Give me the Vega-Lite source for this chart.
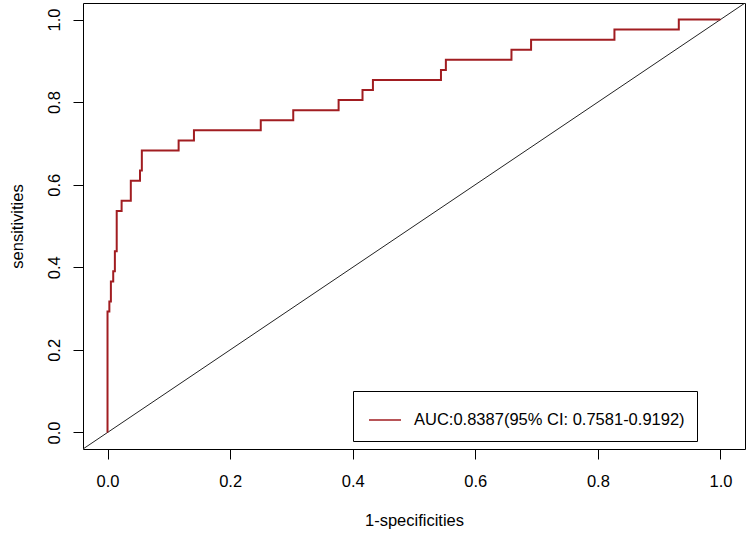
{
  "$schema": "https://vega.github.io/schema/vega-lite/v6.json",
  "autosize": {"type": "none"},
  "padding": {"left": 83, "top": 3, "right": 5, "bottom": 87},
  "width": 662,
  "height": 446,
  "background": "white",
  "config": {
    "view": {"stroke": "black", "strokeWidth": 1},
    "font": "Liberation Sans",
    "axis": {
      "domain": false,
      "grid": false,
      "tickColor": "black",
      "tickSize": 10,
      "tickWidth": 1,
      "labelFont": "Liberation Sans",
      "labelFontSize": 16.5,
      "labelColor": "black",
      "titleFont": "Liberation Sans",
      "titleFontSize": 16.5,
      "titleFontWeight": "normal",
      "titleColor": "black"
    },
    "legend": {
      "labelFont": "Liberation Sans",
      "labelFontSize": 16.5,
      "labelColor": "black",
      "labelLimit": 0
    }
  },
  "datasets": {
    "roc": [
      {"i": 0, "fpr": 0.0, "sens": 0.0, "series": "AUC:0.8387(95% CI: 0.7581-0.9192)"},
      {"i": 1, "fpr": 0.0, "sens": 0.2927, "series": "AUC:0.8387(95% CI: 0.7581-0.9192)"},
      {"i": 2, "fpr": 0.003, "sens": 0.3171, "series": "AUC:0.8387(95% CI: 0.7581-0.9192)"},
      {"i": 3, "fpr": 0.0055, "sens": 0.3659, "series": "AUC:0.8387(95% CI: 0.7581-0.9192)"},
      {"i": 4, "fpr": 0.0093, "sens": 0.3902, "series": "AUC:0.8387(95% CI: 0.7581-0.9192)"},
      {"i": 5, "fpr": 0.012, "sens": 0.439, "series": "AUC:0.8387(95% CI: 0.7581-0.9192)"},
      {"i": 6, "fpr": 0.015, "sens": 0.5366, "series": "AUC:0.8387(95% CI: 0.7581-0.9192)"},
      {"i": 7, "fpr": 0.023, "sens": 0.561, "series": "AUC:0.8387(95% CI: 0.7581-0.9192)"},
      {"i": 8, "fpr": 0.038, "sens": 0.6098, "series": "AUC:0.8387(95% CI: 0.7581-0.9192)"},
      {"i": 9, "fpr": 0.053, "sens": 0.6341, "series": "AUC:0.8387(95% CI: 0.7581-0.9192)"},
      {"i": 10, "fpr": 0.056, "sens": 0.6829, "series": "AUC:0.8387(95% CI: 0.7581-0.9192)"},
      {"i": 11, "fpr": 0.116, "sens": 0.7073, "series": "AUC:0.8387(95% CI: 0.7581-0.9192)"},
      {"i": 12, "fpr": 0.141, "sens": 0.7317, "series": "AUC:0.8387(95% CI: 0.7581-0.9192)"},
      {"i": 13, "fpr": 0.25, "sens": 0.7561, "series": "AUC:0.8387(95% CI: 0.7581-0.9192)"},
      {"i": 14, "fpr": 0.303, "sens": 0.7805, "series": "AUC:0.8387(95% CI: 0.7581-0.9192)"},
      {"i": 15, "fpr": 0.377, "sens": 0.8049, "series": "AUC:0.8387(95% CI: 0.7581-0.9192)"},
      {"i": 16, "fpr": 0.416, "sens": 0.8293, "series": "AUC:0.8387(95% CI: 0.7581-0.9192)"},
      {"i": 17, "fpr": 0.433, "sens": 0.8537, "series": "AUC:0.8387(95% CI: 0.7581-0.9192)"},
      {"i": 18, "fpr": 0.544, "sens": 0.878, "series": "AUC:0.8387(95% CI: 0.7581-0.9192)"},
      {"i": 19, "fpr": 0.552, "sens": 0.9024, "series": "AUC:0.8387(95% CI: 0.7581-0.9192)"},
      {"i": 20, "fpr": 0.659, "sens": 0.9268, "series": "AUC:0.8387(95% CI: 0.7581-0.9192)"},
      {"i": 21, "fpr": 0.691, "sens": 0.9512, "series": "AUC:0.8387(95% CI: 0.7581-0.9192)"},
      {"i": 22, "fpr": 0.827, "sens": 0.9756, "series": "AUC:0.8387(95% CI: 0.7581-0.9192)"},
      {"i": 23, "fpr": 0.932, "sens": 1.0, "series": "AUC:0.8387(95% CI: 0.7581-0.9192)"},
      {"i": 24, "fpr": 1.0, "sens": 1.0, "series": "AUC:0.8387(95% CI: 0.7581-0.9192)"}
    ],
    "diag": [
      {"fpr": -0.04, "sens": -0.04},
      {"fpr": 1.04, "sens": 1.04}
    ]
  },
  "layer": [
    {
      "data": {"name": "diag"},
      "mark": {"type": "line", "color": "#222222", "strokeWidth": 1, "clip": true},
      "encoding": {
        "x": {"field": "fpr", "type": "quantitative"},
        "y": {"field": "sens", "type": "quantitative"}
      }
    },
    {
      "data": {"name": "roc"},
      "mark": {"type": "line", "interpolate": "step-after", "strokeWidth": 2, "clip": true},
      "encoding": {
        "x": {
          "field": "fpr", "type": "quantitative",
          "scale": {"domain": [-0.04, 1.04], "nice": false, "zero": false},
          "axis": {
            "title": "1-specificities",
            "values": [0, 0.2, 0.4, 0.6, 0.8, 1.0],
            "format": ".1f",
            "labelBaseline": "alphabetic",
            "labelPadding": 27,
            "titleBaseline": "alphabetic",
            "titleY": 76,
            "titleAnchor": "middle"
          }
        },
        "y": {
          "field": "sens", "type": "quantitative",
          "scale": {"domain": [-0.04, 1.04], "nice": false, "zero": false},
          "axis": {
            "title": "sensitivities",
            "values": [0, 0.2, 0.4, 0.6, 0.8, 1.0],
            "format": ".1f",
            "labelAngle": 270,
            "labelAlign": "center",
            "labelBaseline": "alphabetic",
            "labelPadding": 14,
            "titleAngle": 270,
            "titleBaseline": "alphabetic",
            "titleX": -61,
            "titleAnchor": "middle"
          }
        },
        "order": {"field": "i", "type": "quantitative"},
        "color": {
          "field": "series", "type": "nominal",
          "scale": {"range": ["#a11d21"]},
          "legend": {
            "title": null,
            "orient": "none",
            "legendX": 270,
            "legendY": 388,
            "padding": 12,
            "strokeColor": "black",
            "fillColor": "white",
            "cornerRadius": 0,
            "symbolType": "stroke",
            "symbolSize": 1024,
            "symbolStrokeWidth": 1.5,
            "symbolOffset": 3,
            "labelOffset": 12,
            "labelLimit": 0
          }
        }
      }
    }
  ]
}
